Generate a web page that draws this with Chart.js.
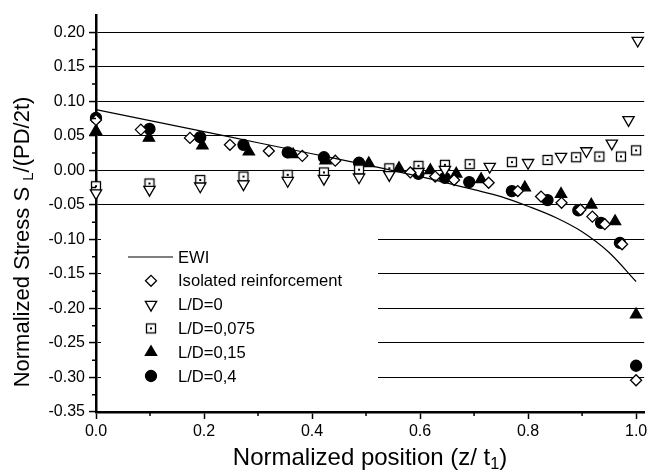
<!DOCTYPE html>
<html>
<head>
<meta charset="utf-8">
<script src="https://cdn.jsdelivr.net/npm/chart.js@4.4.1/dist/chart.umd.min.js"></script>
<style>
  html, body { margin: 0; padding: 0; background: #fff; }
</style>
</head>
<body>
<canvas id="chart" width="652" height="473"></canvas>
<script>
// ── data ──
const seriesLabels = ['EWI', 'Isolated reinforcement', 'L/D=0', 'L/D=0,075', 'L/D=0,15', 'L/D=0,4'];

const ewiX = [0, 0.1, 0.2, 0.3, 0.4, 0.5, 0.6, 0.7, 0.75, 0.8, 0.85, 0.9, 0.95, 1.0];
const ewiY = [0.088, 0.072, 0.056, 0.040, 0.024, 0.008, -0.009, -0.028, -0.038, -0.052, -0.068, -0.089, -0.119, -0.161];

const isoX = [0, 0.083, 0.174, 0.248, 0.320, 0.382, 0.443, 0.582, 0.628, 0.663, 0.727, 0.781, 0.824, 0.862, 0.897, 0.919, 0.942, 0.974, 1.0];
const isoY = [0.073, 0.059, 0.047, 0.037, 0.028, 0.021, 0.014, -0.003, -0.009, -0.014, -0.018, -0.030, -0.038, -0.047, -0.057, -0.067, -0.078, -0.107, -0.304];

const ld0X = [0, 0.099, 0.193, 0.273, 0.355, 0.422, 0.487, 0.543, 0.597, 0.646, 0.729, 0.800, 0.861, 0.908, 0.955, 0.986, 1.003];
const ld0Y = [-0.033, -0.028, -0.023, -0.020, -0.015, -0.012, -0.010, -0.0065, -0.002, 0.001, 0.0055, 0.011, 0.020, 0.028, 0.039, 0.073, 0.188];

const ld075X = [0, 0.099, 0.193, 0.273, 0.355, 0.422, 0.487, 0.543, 0.597, 0.646, 0.692, 0.770, 0.836, 0.889, 0.932, 0.972, 1.0];
const ld075Y = [-0.023, -0.019, -0.014, -0.009, -0.0065, -0.003, 0.001, 0.003, 0.0065, 0.008, 0.009, 0.012, 0.015, 0.019, 0.020, 0.020, 0.029];

const ld015X = [0, 0.098, 0.197, 0.283, 0.365, 0.425, 0.505, 0.561, 0.619, 0.667, 0.713, 0.794, 0.861, 0.917, 0.961, 1.0];
const ld015Y = [0.057, 0.047, 0.036, 0.027, 0.023, 0.014, 0.010, 0.003, 0.000, -0.005, -0.013, -0.025, -0.0345, -0.050, -0.074, -0.209];

const ld04X = [0, 0.099, 0.193, 0.273, 0.355, 0.422, 0.487, 0.597, 0.646, 0.691, 0.770, 0.836, 0.893, 0.935, 0.970, 1.0];
const ld04Y = [0.076, 0.060, 0.048, 0.037, 0.026, 0.019, 0.011, -0.005, -0.011, -0.017, -0.030, -0.043, -0.058, -0.076, -0.105, -0.283];

const xTicks = [0.0, 0.2, 0.4, 0.6, 0.8, 1.0];
const yTicks = [-0.35, -0.30, -0.25, -0.20, -0.15, -0.10, -0.05, 0.00, 0.05, 0.10, 0.15, 0.20];

const pts = (xs, ys) => xs.map((x, i) => ({ x: x, y: ys[i] }));

// square with a dot in the middle
function dottedSquare() {
  const c = document.createElement('canvas');
  c.width = 14; c.height = 14;
  const g = c.getContext('2d');
  g.fillStyle = '#fff';
  g.fillRect(2, 2, 10, 10);
  g.strokeStyle = '#000';
  g.lineWidth = 1.3;
  g.strokeRect(2.5, 2.5, 9, 9);
  g.fillStyle = '#000';
  g.fillRect(6, 6, 2, 2);
  return c;
}
const sqImg = dottedSquare();

const FONT = "'Liberation Sans', Arial, Helvetica, sans-serif";

// axis titles with subscripts
function drawParts(ctx, parts, size) {
  let w = 0;
  parts.forEach(p => {
    ctx.font = (p.sub ? size * 0.68 : size) + 'px ' + FONT;
    p.w = ctx.measureText(p.t).width;
    w += p.w;
  });
  let x = -w / 2;
  parts.forEach(p => {
    ctx.font = (p.sub ? size * 0.68 : size) + 'px ' + FONT;
    ctx.fillText(p.t, x, p.sub ? size * 0.28 : 0);
    x += p.w;
  });
}

const titlesPlugin = {
  id: 'titles',
  afterDraw(chart) {
    const ctx = chart.ctx;
    const a = chart.chartArea;
    ctx.save();
    ctx.fillStyle = '#000';
    ctx.textBaseline = 'middle';
    ctx.textAlign = 'left';
    ctx.translate((a.left + a.right) / 2, 458);
    drawParts(ctx, [{ t: 'Normalized position (z/ t' }, { t: '1', sub: true }, { t: ')' }], 24);
    ctx.restore();

    ctx.save();
    ctx.fillStyle = '#000';
    ctx.textBaseline = 'middle';
    ctx.textAlign = 'left';
    ctx.translate(23, 242);
    ctx.rotate(-Math.PI / 2);
    drawParts(ctx, [{ t: 'Normalized Stress S ' }, { t: 'L', sub: true }, { t: '/(PD/2t)' }], 22);
    ctx.restore();
  }
};

// minor ticks between the labelled ones
const minorTicksPlugin = {
  id: 'minorTicks',
  afterDraw(chart) {
    const ctx = chart.ctx;
    const xs = chart.scales.x, ys = chart.scales.y;
    ctx.save();
    ctx.strokeStyle = '#000';
    ctx.lineWidth = 1.5;
    ctx.beginPath();
    for (let i = 0; i < yTicks.length - 1; i++) {
      const py = ys.getPixelForValue((yTicks[i] + yTicks[i + 1]) / 2);
      ctx.moveTo(xs.left - 4, py);
      ctx.lineTo(xs.left, py);
    }
    for (let i = 0; i < xTicks.length - 1; i++) {
      const px = xs.getPixelForValue((xTicks[i] + xTicks[i + 1]) / 2);
      ctx.moveTo(px, ys.bottom);
      ctx.lineTo(px, ys.bottom + 4);
    }
    ctx.stroke();
    ctx.restore();
  }
};

// legend box inside the plot, lower left
const legendPlugin = {
  id: 'boxLegend',
  afterDatasetsDraw(chart) {
    const ctx = chart.ctx;
    ctx.save();
    ctx.fillStyle = '#fff';
    ctx.fillRect(101, 224, 277, 172);
    ctx.font = '16.6px ' + FONT;
    ctx.textBaseline = 'middle';
    ctx.textAlign = 'left';
    chart.data.datasets.forEach((ds, i) => {
      const y = 257 + i * 23.8;
      if (ds.showLine) {
        ctx.strokeStyle = '#000';
        ctx.lineWidth = 1.2;
        ctx.beginPath();
        ctx.moveTo(128, y);
        ctx.lineTo(173, y);
        ctx.stroke();
      } else {
        ctx.fillStyle = ds.backgroundColor;
        ctx.strokeStyle = ds.borderColor;
        ctx.lineWidth = ds.borderWidth;
        Chart.helpers.drawPoint(ctx, {
          pointStyle: ds.pointStyle,
          rotation: ds.rotation || 0,
          radius: ds.pointRadius,
          borderWidth: ds.borderWidth
        }, 151, y);
      }
      ctx.fillStyle = '#000';
      ctx.fillText(ds.label, 178, y + 1);
    });
    ctx.restore();
  }
};

const marker = (label, data, style, fill, r, rot) => ({
  label: label,
  data: data,
  showLine: false,
  pointStyle: style,
  rotation: rot || 0,
  pointRadius: r,
  pointHoverRadius: r,
  backgroundColor: fill,
  borderColor: '#000',
  borderWidth: 1.3,
  clip: false
});

new Chart(document.getElementById('chart'), {
  type: 'scatter',
  data: {
    datasets: [
      {
        label: seriesLabels[0],
        data: pts(ewiX, ewiY),
        showLine: true,
        cubicInterpolationMode: 'monotone',
        borderColor: '#000',
        borderWidth: 1.2,
        pointRadius: 0,
        fill: false,
        clip: false
      },
      marker(seriesLabels[1], pts(isoX, isoY), 'rectRot', '#fff', 5.5),
      marker(seriesLabels[2], pts(ld0X, ld0Y), 'triangle', '#fff', 6.5, 180),
      marker(seriesLabels[3], pts(ld075X, ld075Y), sqImg, '#fff', 6),
      marker(seriesLabels[4], pts(ld015X, ld015Y), 'triangle', '#000', 6.5),
      marker(seriesLabels[5], pts(ld04X, ld04Y), 'circle', '#000', 5.5)
    ]
  },
  options: {
    responsive: false,
    animation: false,
    events: [],
    layout: { padding: { top: 15, right: 2, left: 0, bottom: 0 } },
    plugins: { legend: { display: false }, tooltip: { enabled: false } },
    scales: {
      x: {
        type: 'linear',
        min: 0,
        max: 1.015,
        afterBuildTicks: s => { s.ticks = xTicks.map(v => ({ value: v })); },
        afterFit: s => { s.height = 61; s.paddingLeft = 0; s.paddingRight = 0; },
        ticks: {
          color: '#000',
          font: { family: FONT, size: 16 },
          padding: 3,
          maxRotation: 0,
          callback: v => v.toFixed(1)
        },
        grid: { drawOnChartArea: false, tickLength: 7, tickColor: '#000', tickWidth: 1.5 },
        border: { color: '#000', width: 2.5 }
      },
      y: {
        min: -0.35,
        max: 0.225,
        afterBuildTicks: s => { s.ticks = yTicks.map(v => ({ value: v })); },
        afterFit: s => { s.width = 96; s.paddingTop = 0; s.paddingBottom = 0; },
        ticks: {
          color: '#000',
          font: { family: FONT, size: 16 },
          padding: 4,
          callback: v => v.toFixed(2)
        },
        grid: { color: '#000', lineWidth: 1.1, tickLength: 7, tickColor: '#000', tickWidth: 1.5 },
        border: { color: '#000', width: 2.5 }
      }
    }
  },
  plugins: [legendPlugin, minorTicksPlugin, titlesPlugin]
});
</script>
</body>
</html>
